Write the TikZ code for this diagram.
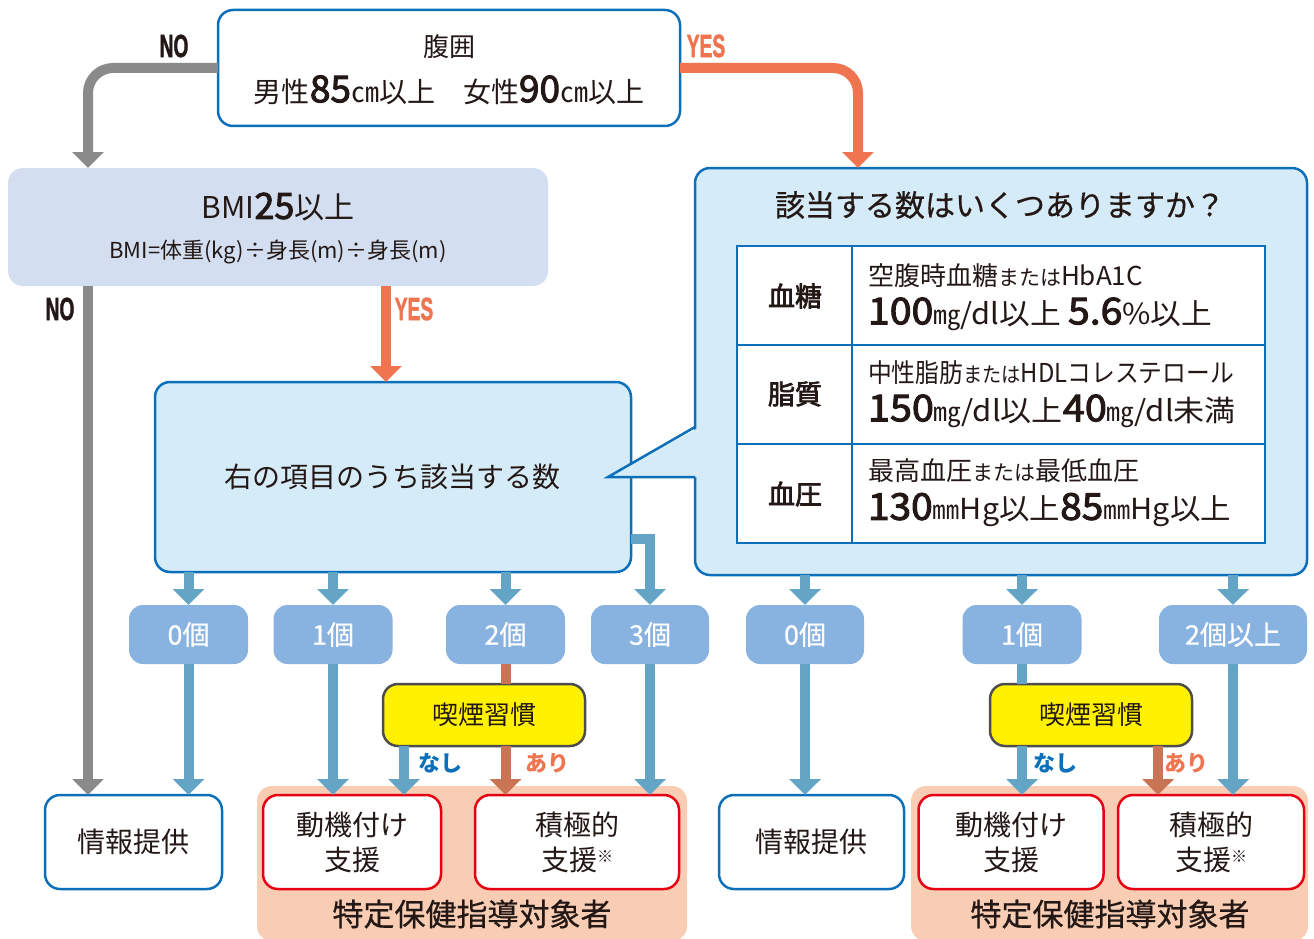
\documentclass[tikz,border=0pt]{standalone}
\usepackage{fontspec}
\usepackage{graphicx}
\setmainfont{Noto Sans CJK JP}
\newfontfamily\medfont{Noto Sans CJK JP}[BoldFont={Noto Sans CJK JP}, BoldFeatures={FakeBold=2.6}]
\newfontfamily\semifont{Noto Sans CJK JP}[BoldFont={Noto Sans CJK JP}, BoldFeatures={FakeBold=0.6}]
\newfontfamily\condfont{Liberation Sans}[BoldFeatures={FakeBold=2}]
\usetikzlibrary{arrows.meta}
\definecolor{txt}{HTML}{231815}
\definecolor{bord}{HTML}{0B6FBA}
\definecolor{lfill}{HTML}{D5EBF8}
\definecolor{bmifill}{HTML}{D3DFF0}
\definecolor{cntfill}{HTML}{88B2DF}
\definecolor{steel}{HTML}{64A5C5}
\definecolor{grayc}{HTML}{8A8A8A}
\definecolor{orng}{HTML}{EE7550}
\definecolor{brwn}{HTML}{C97455}
\definecolor{yel}{HTML}{FFF100}
\definecolor{ybord}{HTML}{4D4D4D}
\definecolor{redb}{HTML}{E60012}
\definecolor{pinkc}{HTML}{F8CDB3}
\newcommand\fs[1]{\fontsize{#1pt}{#1pt}\selectfont}
\newcommand\bnum[1]{{\fs{37}\medfont\bfseries #1}}
\newcommand\yn[1]{\scalebox{0.6}[1]{\condfont\bfseries\fs{32}#1}}
\begin{document}
\begin{tikzpicture}[x=1pt,y=-1pt,
  every node/.style={text=txt, inner sep=0pt, outer sep=0pt, align=center},
  rbox/.style={rounded corners=15pt, line width=2.5pt},
  bluebox/.style={rbox, draw=bord, fill=lfill},
  whitebox/.style={rbox, draw=bord, fill=white, minimum height=94pt, font=\fs{28}},
  redbox/.style={rbox, draw=redb, fill=white, minimum height=94pt, font=\fontsize{28pt}{35pt}\selectfont},
  cnt/.style={rounded corners=14pt, fill=cntfill, text=white, minimum height=59pt, font=\fs{27}\semifont\bfseries},
  smoke/.style={rbox, draw=ybord, fill=yel, minimum width=202pt, minimum height=62pt, font=\fs{26}},
  arr/.style={line width=10pt, -{Triangle[width=31pt,length=16pt]}},
  seg/.style={line width=10pt},
  lbl/.style={font=\fs{22}\bfseries},
  tline/.style={draw=bord, line width=1.5pt},
  cellhead/.style={font=\fs{27}\medfont\bfseries},
  cell/.style={anchor=west}
]
\useasboundingbox (0,0) rectangle (1314,939);

% pink groups
\fill[pinkc, rounded corners=15pt] (257,786) rectangle (687,941);
\fill[pinkc, rounded corners=15pt] (911,786) rectangle (1308,941);
\node[font=\fs{31}\semifont\bfseries] (grp1) at (472,914) {特定保健指導対象者};
\node[font=\fs{31}\semifont\bfseries] (grp2) at (1110,914) {特定保健指導対象者};

% top box
\node[rbox, draw=bord, fill=white, minimum width=462pt, minimum height=116pt] (top) at (449,68) {};
\node[font=\fs{26}] (topa) at (449,47) {腹囲};
\node[font=\fs{28}] (topb) at (449,90) {男性\bnum{85}㎝以上　女性\bnum{90}㎝以上};

% BMI box
\node[rounded corners=15pt, fill=bmifill, minimum width=540pt, minimum height=118pt] (bmi) at (278,227) {};
\node[font=\fs{30}] (bmia) at (278,207) {BMI{\fs{36}\medfont\bfseries 25}以上};
\node[font=\fs{22}] (bmib) at (278,252) {BMI=体重(kg)÷身長(m)÷身長(m)};

% middle box
\node[bluebox, minimum width=476pt, minimum height=190pt] (mid) at (393,477) {};
\node[font=\fs{28}] (midt) at (392,477) {右の項目のうち該当する数};

% right box with pointer
\node[bluebox, minimum width=612pt, minimum height=407pt] (rbox) at (1001,371.5) {};
\fill[lfill] (698,428) -- (608,477) -- (698,477) -- cycle;
\draw[draw=bord, line width=2.5pt, line join=miter] (695,427) -- (608,477) -- (695,477);
\node[font=\fs{30}\semifont\bfseries] (q) at (1000,205) {該当する数はいくつありますか？};

% table
\draw[tline, fill=white] (737,246) rectangle (1265,543);
\draw[tline] (852,246) -- (852,543) (737,345) -- (1265,345) (737,444) -- (1265,444);
\node[cellhead] (h1) at (795,296) {血糖};
\node[cellhead] (h2) at (795,394) {脂質};
\node[cellhead] (h3) at (795,494) {血圧};
\node[cell, font=\fs{26}] (r1a) at (868,276) {空腹時血糖{\fs{21}または}HbA1C};
\node[cell, font=\fs{29}] (r1b) at (868,314) {\scalebox{1.06}[1]{\bnum{100}{\fs{26}㎎}/dl以上 \bnum{5.6}\%以上}};
\node[cell, font=\fs{26}] (r2a) at (868,373) {\scalebox{0.915}[1]{中性脂肪{\fs{21}または}HDLコレステロール}};
\node[cell, font=\fs{29}] (r2b) at (868,411) {\scalebox{1.07}[1]{\bnum{150}{\fs{26}㎎}/dl以上\bnum{40}{\fs{26}㎎}/dl未満}};
\node[cell, font=\fs{26}] (r3a) at (868,471) {最高血圧{\fs{21}または}最低血圧};
\node[cell, font=\fs{29}] (r3b) at (868,510) {\scalebox{1.05}[1]{\bnum{130}{\fs{26}㎜}Hg以上\bnum{85}{\fs{26}㎜}Hg以上}};

% count boxes
\node[cnt, minimum width=119pt] (c0) at (188.5,634.5) {0個};
\node[cnt, minimum width=119pt] (c1) at (333,634.5) {1個};
\node[cnt, minimum width=119pt] (c2) at (505.5,634.5) {2個};
\node[cnt, minimum width=118pt] (c3) at (650,634.5) {3個};
\node[cnt, minimum width=118pt] (rc0) at (805,634.5) {0個};
\node[cnt, minimum width=119pt] (rc1) at (1022,634.5) {1個};
\node[cnt, minimum width=148pt] (rc2) at (1233,634.5) {2個以上};

% smoking boxes
\node[smoke] (smk1) at (484,715) {喫煙習慣};
\node[smoke] (smk2) at (1091,715) {喫煙習慣};

% result boxes
\node[whitebox, minimum width=177pt] (info1) at (133.5,842) {情報提供};
\node[redbox, minimum width=178pt] (mot1) at (352,842) {動機付け\\支援};
\node[redbox, minimum width=204pt] (act1) at (577,842) {積極的\\支援{\fs{16}\raisebox{8pt}{※}}};
\node[whitebox, minimum width=185pt] (info2) at (811.5,842) {情報提供};
\node[redbox, minimum width=185pt] (mot2) at (1011,842) {動機付け\\支援};
\node[redbox, minimum width=186pt] (act2) at (1211,842) {積極的\\支援{\fs{16}\raisebox{8pt}{※}}};

% top arrows
\draw[arr, grayc, rounded corners=25pt] (top.west) -| ([xshift=80pt]bmi.north west);
\draw[arr, orng, rounded corners=25pt] (top.east) -| ([xshift=163pt]rbox.north west);
\node (no1) at (174,46) {\yn{NO}};
\node[text=orng] (yes1) at (706,46) {\yn{YES}};

% BMI arrows
\draw[arr, grayc] ([xshift=80pt]bmi.south west) -- ([xshift=80pt]bmi.south west |- info1.north);
\draw[arr, orng] ([xshift=231pt]mid.north west |- bmi.south) -- ([xshift=231pt]mid.north west);
\node (no2) at (60,309) {\yn{NO}};
\node[text=orng] (yes2) at (414,309) {\yn{YES}};

% count arrows
\draw[arr, steel] (c0.north |- mid.south) -- (c0.north);
\draw[arr, steel] (c1.north |- mid.south) -- (c1.north);
\draw[arr, steel] (c2.north |- mid.south) -- (c2.north);
\draw[arr, steel] ([yshift=-62pt]mid.east) -| (c3.north);
\draw[arr, steel] (rc0.north |- rbox.south) -- (rc0.north);
\draw[arr, steel] (rc1.north |- rbox.south) -- (rc1.north);
\draw[arr, steel] (rc2.north |- rbox.south) -- (rc2.north);

% down arrows left
\draw[arr, steel] (c0.south) -- (c0.south |- info1.north);
\draw[arr, steel] (c1.south) -- (c1.south |- mot1.north);
\draw[seg, brwn] (c2.south) -- (c2.south |- smk1.north);
\draw[arr, steel] (c3.south) -- (c3.south |- act1.north);
\draw[arr, steel] ([xshift=21pt]smk1.south west) -- ([xshift=21pt]smk1.south west |- mot1.north);
\draw[arr, brwn] (c2.south |- smk1.south) -- (c2.south |- act1.north);
\node[lbl, text=bord] (nashi1) at (440,763) {なし};
\node[lbl, text=orng] (ari1) at (547,763) {あり};

% down arrows right
\draw[arr, steel] (rc0.south) -- (rc0.south |- info2.north);
\draw[seg, steel] (rc1.south) -- (rc1.south |- smk2.north);
\draw[arr, steel] (rc1.south |- smk2.south) -- (rc1.south |- mot2.north);
\draw[arr, brwn] ([xshift=-34pt]smk2.south east) -- ([xshift=-34pt]smk2.south east |- act2.north);
\draw[arr, steel] (rc2.south) -- (rc2.south |- act2.north);
\node[lbl, text=bord] (nashi2) at (1055,763) {なし};
\node[lbl, text=orng] (ari2) at (1186,763) {あり};
\end{tikzpicture}
\end{document}
